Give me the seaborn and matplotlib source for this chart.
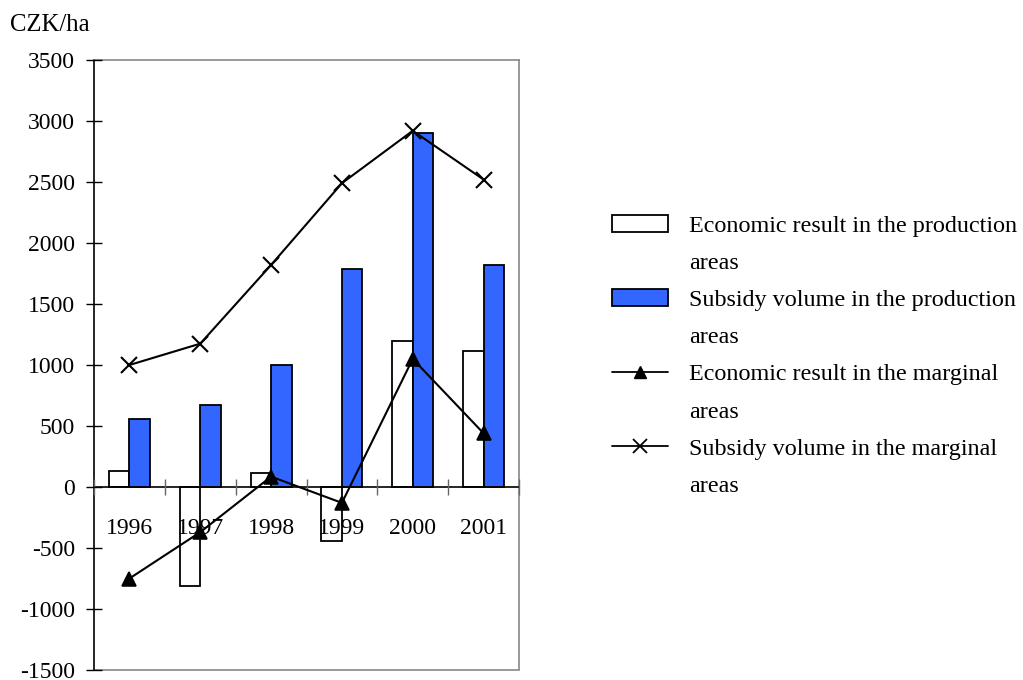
import matplotlib
matplotlib.use("Agg")
import matplotlib.pyplot as plt
from matplotlib.patches import Patch, Rectangle
from matplotlib.lines import Line2D
import numpy as np
import pandas as pd
import seaborn as sns

# Data (CZK/ha)
years = ["1996", "1997", "1998", "1999", "2000", "2001"]
econ_production = [135, -815, 115, -440, 1200, 1115]
subsidy_production = [560, 675, 1000, 1785, 2900, 1820]
econ_marginal = [-750, -370, 85, -130, 1050, 440]
subsidy_marginal = [1000, 1175, 1820, 2490, 2920, 2520]
yticks = list(range(-1500, 3501, 500))

lab_econ_prod = "Economic result in the production areas"
lab_subs_prod = "Subsidy volume in the production areas"

sns.set_theme(style="white")
plt.rcParams["font.family"] = ["Liberation Serif", "DejaVu Serif"]
plt.rcParams["text.color"] = "black"
plt.rcParams["xtick.color"] = "black"
plt.rcParams["ytick.color"] = "black"
plt.rcParams["axes.axisbelow"] = False

bars = pd.DataFrame({
    "year": years * 2,
    "value": econ_production + subsidy_production,
    "series": [lab_econ_prod] * len(years) + [lab_subs_prod] * len(years),
})

BLUE = "#3366FF"
FS = 17

fig = plt.figure(figsize=(10.23, 6.80), dpi=100)
ax = fig.add_axes([94 / 1023, 10 / 680, 425 / 1023, 610 / 680])

sns.barplot(data=bars, x="year", y="value", hue="series", order=years,
            palette=["white", BLUE], saturation=1, edgecolor="black",
            linewidth=1.3, width=0.58, gap=0, legend=False, ax=ax)

sns.pointplot(x=years, y=econ_marginal, order=years, color="black",
              markers="^", errorbar=None, markersize=10, linewidth=1.5,
              zorder=4, ax=ax)
sns.pointplot(x=years, y=subsidy_marginal, order=years, color="black",
              markers="x", errorbar=None, markersize=12, linewidth=1.5,
              markeredgewidth=1.5, zorder=4, ax=ax)

ax.set_xlim(-0.5, len(years) - 0.5)
ax.set_ylim(-1500, 3500)
ax.set_xlabel("")
ax.set_ylabel("")

# y axis
ax.set_yticks(yticks)
ax.set_yticklabels([str(v) for v in yticks])
ax.tick_params(axis="y", which="major", direction="inout", length=11,
               width=1.0, color="black", pad=8, labelsize=FS, left=True,
               labelcolor="black")

# x axis: category separators on the zero line, labels at centers
ax.set_xticks(np.arange(-0.5, len(years)), labels=[""] * (len(years) + 1))
ax.set_xticks(np.arange(len(years)), labels=years, minor=True)
ax.tick_params(axis="x", which="major", direction="inout", length=11,
               width=1.0, color="#666666", bottom=True)
ax.tick_params(axis="x", which="minor", length=0, pad=22, labelsize=FS,
               bottom=True, labelcolor="black")

for side in ["top", "right"]:
    ax.spines[side].set_visible(True)
    ax.spines[side].set_color("#888888")
    ax.spines[side].set_linewidth(1.2)
ax.spines["left"].set_color("black")
ax.spines["left"].set_linewidth(1.2)
ax.spines["bottom"].set_position(("data", 0))
ax.spines["bottom"].set_color("black")
ax.spines["bottom"].set_linewidth(1.2)
ax.add_patch(Rectangle((0, 0), 1, 0, transform=ax.transAxes, fill=False,
                       edgecolor="#888888", linewidth=1.2, clip_on=False))

fig.text(10 / 1023, 1 - 25 / 680, "CZK/ha", fontsize=17.8, va="center",
         ha="left")

# Legend: each label split over two lines, handle beside the first line
blank = Patch(visible=False)
handles = [
    Patch(facecolor="white", edgecolor="black", linewidth=1.3), blank,
    Patch(facecolor=BLUE, edgecolor="black", linewidth=1.3), blank,
    Line2D([], [], color="black", marker="^", markersize=9, linewidth=1.3), blank,
    Line2D([], [], color="black", marker="x", markersize=10, linewidth=1.3,
           markeredgewidth=1.3), blank,
]
labels = [
    "Economic result in the production", "areas",
    "Subsidy volume in the production", "areas",
    "Economic result in the marginal", "areas",
    "Subsidy volume in the marginal", "areas",
]
fig.legend(handles, labels, loc="upper left",
           bbox_to_anchor=(612 / 1023, 1 - 215 / 680), frameon=False,
           fontsize=17.4, handlelength=2.3, handleheight=0.7,
           handletextpad=0.88, labelspacing=0.63, borderpad=0,
           borderaxespad=0)

fig.savefig("out.png", dpi=100)
